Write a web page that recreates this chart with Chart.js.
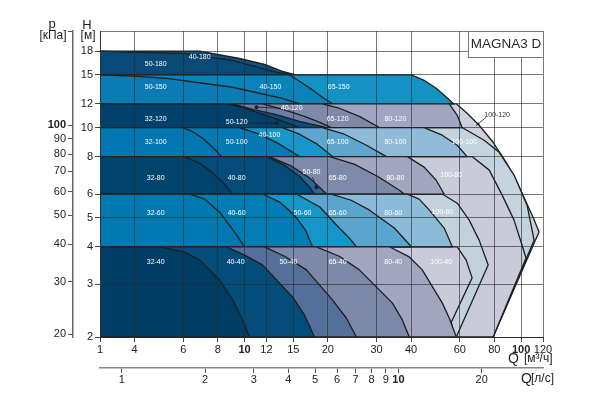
<!DOCTYPE html>
<html>
<head>
<meta charset="utf-8">
<script src="https://cdn.jsdelivr.net/npm/chart.js@4.4.1/dist/chart.umd.min.js"></script>
<style>
  html, body { margin: 0; padding: 0; background: #fff; }
  #wrap { width: 592px; height: 402px; }
</style>
</head>
<body>
<div id="wrap"><canvas id="chart" width="592" height="402"></canvas></div>
<script>
// axis ticks
const qTicks = [1, 4, 6, 8, 10, 12, 15, 20, 30, 40, 60, 80, 100, 120];
const qlsTicks = [1, 2, 3, 4, 5, 6, 7, 8, 9, 10, 20];
const hTicks = [2, 3, 4, 5, 6, 8, 10, 12, 15, 18];
const pTicks = [20, 30, 40, 50, 60, 70, 80, 90, 100];
const boldTicks = [10, 100];

const Q_MIN = 3, Q_MAX = 120, H_MIN = 2, H_MAX = 21;
const BREAK_END = 4;          // 1..4 m3/h is squeezed into a short stretch
const KPA_PER_M = 9.80665;
const M3H_PER_LS = 3.6;

// pump areas, outline points [Q m3/h, H m]
const p100_120 = [[1,12],[58.3,12],[63.8,11.16],[70.5,10.18],[79.2,8.93],[88.3,7.66],[96.7,6.57],[104.2,5.64],[110.5,5.02],[116.1,4.48],[79.2,2],[1,2],[1,12]];
const p100_100 = [[1,10],[61.2,10],[73.5,9.07],[83.3,8.27],[94.3,6.94],[105.1,5.51],[111.4,4.21],[79.2,2],[1,2],[1,10]];
const p100_80 = [[1,8],[66.5,8],[76.7,7.21],[85.4,5.95],[94.3,4.91],[100.8,4.05],[104.2,3.67],[79.2,2],[1,2],[1,8]];
const p100_60 = [[1,6],[51.85,6],[58.75,5.59],[64.9,4.91],[70.5,4.21],[76.0,3.48],[58.3,2],[1,2],[1,6]];
const p100_40 = [[1,4],[58.75,4],[63.3,3.61],[66.5,3.15],[55.9,2.24],[57.3,2],[1,2],[1,4]];
const p40_180 = [[1,18],[6.88,18],[9.59,17.0],[11.8,16.26],[13.7,15.41],[15.3,15],[1,15],[1,18]];
const p50_180 = [[1,18],[4.18,17.83],[5.97,17.69],[9.05,16.76],[13.05,15.29],[14.9,15],[1,15],[1,18]];
const p65_150 = [[1,15],[40.1,15],[44.6,14.38],[49.3,13.52],[53.2,12.72],[57.0,12],[1,12],[1,15]];
const p40_150 = [[1,15],[14.5,15],[15.8,14.27],[17.46,13.42],[19.1,12.62],[20.8,12],[1,12],[1,15]];
const p50_150 = [[1,15],[4,14.85],[5.23,14.6],[9.05,13.63],[13.7,12.52],[15.8,12],[1,12],[1,15]];
const p80_120 = [[1,12],[55.0,12],[58.75,10.99],[61.2,10],[1,10],[1,12]];
const p65_120 = [[1,12],[19.1,12],[22.0,11.6],[26.0,10.9],[30.7,10],[1,10],[1,12]];
const p40_120 = [[1,12],[11.61,12],[13.95,11.46],[16.46,10.9],[18.7,10.41],[20.6,10],[1,10],[1,12]];
const p50_120 = [[1,12],[9.05,12],[10.87,11.46],[12.83,11.08],[15.8,10.49],[19.8,10],[1,10],[1,12]];
const p32_120 = [[1,12],[8.68,12],[10,11.6],[11.33,11.16],[13.4,10.58],[15.8,10],[1,10],[1,12]];
const p80_100 = [[1,10],[44.6,10],[51.85,9.43],[58.75,8.73],[63.8,8],[1,8],[1,10]];
const p65_100 = [[1,10],[19.1,10],[22.96,9.5],[27.6,8.73],[32.6,8],[1,8],[1,10]];
const p40_100 = [[1,10],[13.7,10],[15.8,9.5],[18.3,8.8],[20.8,8],[1,8],[1,10]];
const p50_100 = [[1,10],[9.59,10],[11.33,9.5],[13.4,8.8],[15.8,8],[1,8],[1,10]];
const p32_100 = [[1,10],[5.97,10],[6.44,9.72],[7.05,9.21],[7.66,8.6],[8.26,8],[1,8],[1,10]];
const p80_80 = [[1,8],[38.8,8],[44.6,7.38],[49.3,6.67],[52.7,6],[1,6],[1,8]];
const p65_80 = [[1,8],[20.3,8],[24.9,7.55],[30.2,6.88],[36.3,6.18],[37.8,6],[1,6],[1,8]];
const p50_80 = [[1,8],[12.3,8],[14.8,7.43],[17.2,6.78],[19.8,6],[1,6],[1,8]];
const p40_80 = [[1,8],[12.0,8],[13.95,7.49],[15.8,6.88],[17.2,6.32],[17.9,6],[1,6],[1,8]];
const p32_80 = [[1,8],[6.07,8],[6.88,7.6],[7.6,7.1],[8.4,6.52],[9.05,6],[1,6],[1,8]];
const p80_60 = [[1,6],[38.8,6],[42.8,5.77],[46.6,5.3],[52.7,4.62],[56.4,4],[1,4],[1,6]];
const p65_60 = [[1,6],[20.6,6],[24.3,5.72],[28.3,5.3],[34.8,4.62],[40.1,4],[1,4],[1,6]];
const p50_60 = [[1,6],[15.4,6],[18.7,5.43],[22.0,4.62],[23.9,4.28],[25.4,4],[1,4],[1,6]];
const p40_60 = [[1,6],[11.61,6],[13.4,5.64],[15.15,5.1],[16.6,4.55],[17.6,4],[1,4],[1,6]];
const p32_60 = [[1,6],[6.33,6],[7.17,5.77],[8.12,5.22],[9.2,4.48],[10,4],[1,4],[1,6]];
const p80_40 = [[1,4],[33.4,4],[39.4,3.7],[43.9,3.35],[51.85,2.6],[55.0,2.31],[58.3,2],[1,2],[1,4]];
const p65_40 = [[1,4],[18.19,4],[22.0,3.72],[26.0,3.35],[34.2,2.6],[37.2,2.28],[39.4,2],[1,2],[1,4]];
const p50_40 = [[1,4],[11.81,4],[13.95,3.72],[16.74,3.35],[20.78,2.66],[23.35,2.31],[25.37,2],[1,2],[1,4]];
const p40_40 = [[1,4],[8.61,4],[10,3.75],[11.61,3.48],[14.9,2.72],[16.46,2.37],[17.9,2],[1,2],[1,4]];
const p32_40 = [[1,4],[4.93,4],[6.07,3.84],[6.88,3.61],[8.12,3.1],[9.05,2.66],[9.83,2.28],[10.42,2],[1,2],[1,4]];

// back to front
const models = ['100-120','100-100','100-80','100-60','100-40','40-180','50-180','65-150','40-150','50-150',
  '80-120','65-120','40-120','50-120','32-120','80-100','65-100','40-100','50-100','32-100',
  '80-80','65-80','50-80','40-80','32-80','80-60','65-60','50-60','40-60','32-60',
  '80-40','65-40','50-40','40-40','32-40'];
const outlines = [p100_120, p100_100, p100_80, p100_60, p100_40, p40_180, p50_180, p65_150, p40_150, p50_150,
  p80_120, p65_120, p40_120, p50_120, p32_120, p80_100, p65_100, p40_100, p50_100, p32_100,
  p80_80, p65_80, p50_80, p40_80, p32_80, p80_60, p65_60, p50_60, p40_60, p32_60,
  p80_40, p65_40, p50_40, p40_40, p32_40];
const colours = ['#cdd0dd','#c4d4de','#c9cbda','#c1d2dc','#c9cbda','#0b5283','#074a78','#1492c4','#0a82ba','#0a7bb4',
  '#a1a5c1','#8189a9','#6b7fa6','#0b4c7c','#00426c','#8fbbd9','#5ea6cd','#1796c9','#0479b2','#0077b0',
  '#a2a6c1','#7e8aa9','#2c6597','#034b78','#00436c','#8cbad9','#5aa5cd','#1496c8','#027cb4','#0079b1',
  '#a1a5c0','#7c89a8','#54709a','#044c7a','#003e66'];

// name tags [text, Q, H]
const tags = [
  ['50-180',4.77,16.26],['40-180',6.88,17.2],
  ['50-150',4.77,13.63],['40-150',12.4,13.63],['65-150',21.9,13.63],
  ['32-120',4.77,10.66],['50-120',9.36,10.41],['40-120',14.8,11.6],['65-120',21.7,10.66],['80-120',35.1,10.66],['100-120',81.9,10.99],
  ['32-100',4.77,8.93],['50-100',9.36,8.93],['40-100',12.3,9.43],['65-100',21.7,8.93],['80-100',35.1,8.93],['100-100',62.3,8.93],
  ['32-80',4.77,6.78],['40-80',9.36,6.78],['50-80',17.46,7.1],['65-80',21.7,6.78],['80-80',35.1,6.78],['100-80',55.9,6.94],
  ['32-60',4.77,5.18],['40-60',9.36,5.18],['50-60',16.2,5.18],['65-60',21.7,5.18],['80-60',34.5,5.18],['100-60',51.9,5.23],
  ['32-40',4.77,3.56],['40-40',9.28,3.56],['50-40',14.4,3.56],['65-40',21.7,3.56],['80-40',34.5,3.56],['100-40',51.4,3.56]
];
// leader lines [Q1, H1, Q2, H2, dot at end]
const leaders = [[10.25,10.34,13.05,10.34,true],[13.6,11.6,11.05,11.69,true],[17.6,6.83,18.19,6.32,true],[74.7,10.82,68.8,10.15,false]];

const FONT = '"Liberation Sans", Arial, sans-serif';
const GRID = 'rgba(40,40,40,0.62)';

class BrokenLogScale extends Chart.LogarithmicScale {
  getPixelForValue(value) {
    const v = value < BREAK_END ? Q_MIN + (value - 1) * (BREAK_END - Q_MIN) / (BREAK_END - 1) : value;
    return super.getPixelForValue(v);
  }
}
BrokenLogScale.id = 'brokenLog';
BrokenLogScale.defaults = Chart.LogarithmicScale.defaults;
Chart.register(BrokenLogScale);

const tickFont = c => ({ family: FONT, size: 11, weight: c.tick && boldTicks.includes(c.tick.value) ? 'bold' : 'normal' });
const plainFont = { family: FONT, size: 11 };
const setTicks = list => s => { s.ticks = list.map(v => ({ value: v })); };

const decor = {
  id: 'decor',
  afterDraw(chart) {
    const { ctx, chartArea: a, scales } = chart;
    const xs = scales.x, ys = scales.y, y2 = scales.y2;
    ctx.save();

    ctx.strokeStyle = '#222';
    ctx.fillStyle = '#222';
    ctx.lineWidth = 0.8;
    leaders.forEach(([q1, h1, q2, h2, dot]) => {
      const x1 = xs.getPixelForValue(q1), y1 = ys.getPixelForValue(h1);
      const x2 = xs.getPixelForValue(q2), yy2 = ys.getPixelForValue(h2);
      ctx.beginPath(); ctx.moveTo(x1, y1); ctx.lineTo(x2, yy2); ctx.stroke();
      if (dot) {
        ctx.beginPath(); ctx.arc(x2, yy2, 2, 0, Math.PI * 2); ctx.fill();
      } else {
        const ang = Math.atan2(yy2 - y1, x2 - x1);
        ctx.beginPath();
        ctx.moveTo(x2, yy2);
        ctx.lineTo(x2 - 4 * Math.cos(ang - 0.4), yy2 - 4 * Math.sin(ang - 0.4));
        ctx.lineTo(x2 - 4 * Math.cos(ang + 0.4), yy2 - 4 * Math.sin(ang + 0.4));
        ctx.closePath(); ctx.fill();
      }
    });

    ctx.font = '7px ' + FONT;
    ctx.textAlign = 'center';
    ctx.textBaseline = 'middle';
    tags.forEach(([name, q, h]) => {
      ctx.fillStyle = name === '100-120' ? '#333' : '#fff';
      ctx.fillText(name, xs.getPixelForValue(q), ys.getPixelForValue(h));
    });

    // model box
    ctx.fillStyle = '#fff';
    ctx.strokeStyle = '#777';
    ctx.lineWidth = 1;
    ctx.fillRect(a.right - 75, a.top, 75, 26);
    ctx.strokeRect(a.right - 75 + 0.5, a.top + 0.5, 75, 26);
    ctx.fillStyle = '#2a2a2a';
    ctx.font = '13.5px ' + FONT;
    ctx.fillText('MAGNA3 D', a.right - 37, a.top + 13.5);

    // axis titles
    ctx.fillStyle = '#222';
    ctx.textBaseline = 'alphabetic';
    ctx.font = '13px ' + FONT;
    ctx.fillText('H', a.left - 13, a.top - 2);
    ctx.fillText('p', y2.right - 21, a.top - 3);
    ctx.font = '12px ' + FONT;
    ctx.fillText('[м]', a.left - 12, a.top + 8);
    ctx.fillText('[кПа]', y2.right - 20, a.top + 8);

    ctx.textAlign = 'left';
    ctx.font = '14px ' + FONT;
    ctx.fillText('Q', a.right - 35, a.bottom + 26);
    ctx.fillText('Q', a.right - 22, a.bottom + 46);
    ctx.font = '12px ' + FONT;
    ctx.fillText('[м³/ч]', a.right - 19, a.bottom + 25);
    ctx.fillText('[л/с]', a.right - 12, a.bottom + 45);
    ctx.restore();
  }
};

new Chart(document.getElementById('chart'), {
  type: 'line',
  data: {
    datasets: outlines.map((pts, i) => ({
      label: models[i],
      data: pts.map(([q, h]) => ({ x: q, y: h })),
      backgroundColor: colours[i],
      borderColor: '#1e1e1e',
      borderWidth: 1.3,
      fill: 'shape',
      pointRadius: 0,
      tension: 0,
      order: outlines.length - i
    }))
  },
  options: {
    responsive: false,
    animation: false,
    events: [],
    layout: { padding: { top: 31, right: 49, bottom: 0, left: 0 } },
    elements: { line: { borderJoinStyle: 'round' } },
    plugins: { legend: { display: false }, tooltip: { enabled: false } },
    scales: {
      x: {
        type: 'brokenLog', position: 'bottom', weight: 0, min: Q_MIN, max: Q_MAX,
        afterBuildTicks: setTicks(qTicks),
        afterFit: s => { s.height = 31; },
        grid: { color: GRID, z: 1, tickLength: 5, tickColor: '#444' },
        border: { color: '#333', z: 1 },
        ticks: { autoSkip: false, maxRotation: 0, padding: 1, color: '#222', font: tickFont, callback: v => String(v) }
      },
      x2: {
        type: 'logarithmic', position: 'bottom', weight: 1, min: Q_MIN / M3H_PER_LS, max: Q_MAX / M3H_PER_LS,
        afterBuildTicks: setTicks(qlsTicks),
        afterFit: s => { s.height = 34; },
        grid: { drawOnChartArea: false, tickLength: 5, tickColor: '#555' },
        border: { color: '#888', width: 1.5 },
        ticks: { autoSkip: false, maxRotation: 0, padding: 0, color: '#222', font: tickFont, callback: v => String(v) }
      },
      y: {
        type: 'logarithmic', position: 'left', weight: 0, min: H_MIN, max: H_MAX,
        afterBuildTicks: setTicks(hTicks.concat(H_MAX)),
        afterFit: s => { s.width = 27; },
        grid: { color: GRID, z: 1, tickLength: 5, tickColor: c => (c.tick && c.tick.value === H_MAX ? 'rgba(0,0,0,0)' : '#444') },
        border: { color: '#333', z: 1 },
        ticks: { autoSkip: false, padding: 2, color: '#222', font: plainFont, callback: v => (v === H_MAX ? '' : String(v)) }
      },
      y2: {
        type: 'logarithmic', position: 'left', weight: 1, min: H_MIN * KPA_PER_M, max: H_MAX * KPA_PER_M,
        afterBuildTicks: setTicks(pTicks.concat(H_MAX * KPA_PER_M)),
        afterFit: s => { s.width = 73; },
        grid: { drawOnChartArea: false, tickLength: 5, tickColor: '#555' },
        border: { color: '#666', width: 1.5 },
        ticks: { autoSkip: false, padding: 2, color: '#222', font: tickFont, callback: v => (v > 200 ? '' : String(v)) }
      }
    }
  },
  plugins: [decor]
});
</script>
</body>
</html>
